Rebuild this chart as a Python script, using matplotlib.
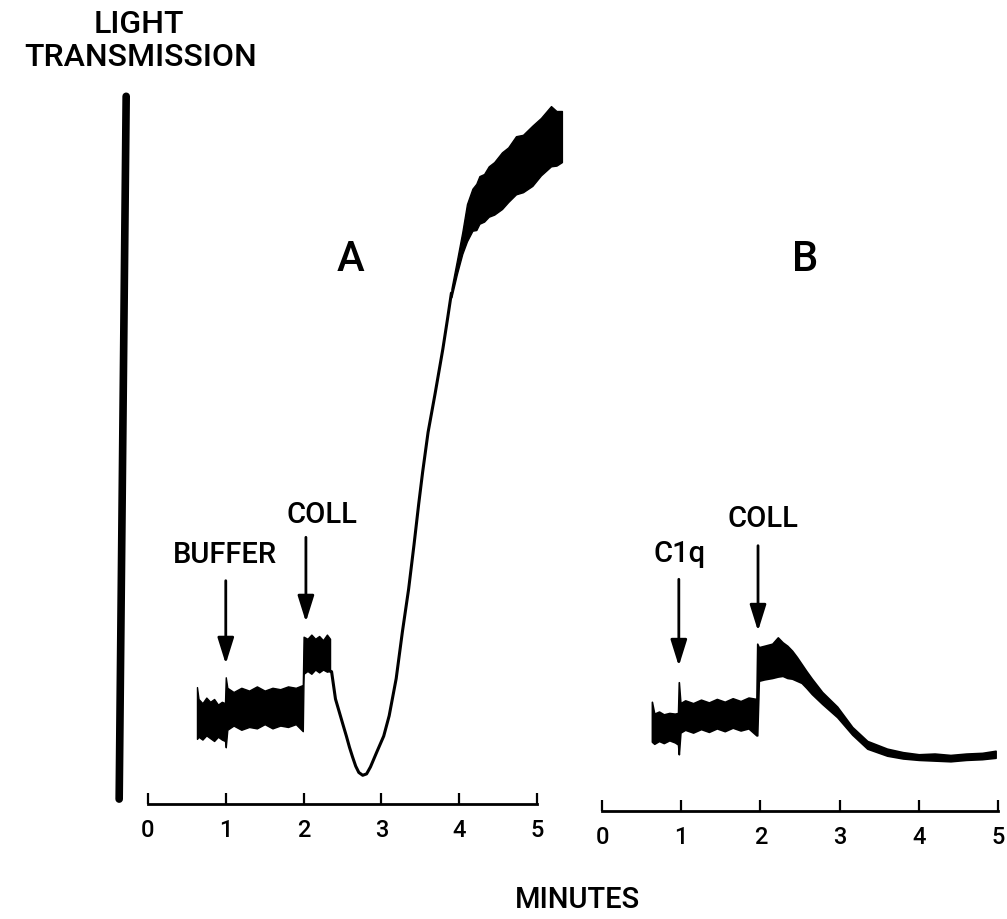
import numpy as np
import matplotlib.pyplot as plt

plt.rcParams['font.family'] = ['Roboto', 'Liberation Sans', 'DejaVu Sans']
plt.rcParams['font.weight'] = 'medium'

# Кривая A: шум до и после добавления буфера и коллагена (t в минутах)
a_base_t = [0.63, 0.65, 0.70, 0.75, 0.80, 0.85, 0.90, 0.95, 0.99,
            1.00, 1.02, 1.10, 1.20, 1.30, 1.40, 1.50, 1.60, 1.70, 1.80, 1.90, 1.99,
            2.00, 2.05, 2.10, 2.15, 2.20, 2.25, 2.30, 2.34]
a_base_hi = [16.7, 15.0, 14.4, 15.2, 14.6, 15.0, 14.2, 14.6, 14.4,
             18.1, 16.6, 16.0, 16.6, 16.2, 16.8, 16.2, 16.6, 16.4, 16.8, 16.6, 17.0,
             23.9, 23.6, 24.2, 23.6, 24.0, 23.4, 24.2, 23.6]
a_base_lo = [9.3, 9.6, 9.2, 9.8, 9.4, 9.0, 9.6, 9.2, 9.0,
             8.1, 10.6, 11.2, 10.6, 11.0, 10.8, 11.4, 10.8, 11.2, 11.0, 11.4, 10.4,
             18.6, 19.0, 18.6, 19.2, 18.8, 19.2, 18.9, 19.0]

# Кривая A: спад и подъём (агрегация)
a_line_t = [2.34, 2.36, 2.41, 2.46, 2.51, 2.55, 2.59, 2.63, 2.67, 2.71, 2.76,
            2.81, 2.86, 2.94, 3.03, 3.10, 3.19, 3.27, 3.35, 3.42, 3.48, 3.53,
            3.60, 3.69, 3.79, 3.85, 3.90]
a_line_y = [19.0, 18.9, 15.0, 13.1, 11.2, 9.7, 8.1, 6.7, 5.4, 4.5, 4.1,
            4.3, 5.3, 7.4, 9.7, 12.6, 17.9, 24.6, 30.7, 37.1, 42.9, 47.4,
            53.1, 58.6, 65.0, 69.3, 73.0]

# Кривая A: верхний участок с шумом
a_top_t = [3.90, 3.97, 4.04, 4.10, 4.17, 4.22, 4.26, 4.32, 4.38, 4.45, 4.55,
           4.63, 4.73, 4.82, 4.94, 5.05, 5.18, 5.25, 5.32]
a_top_hi = [73.6, 77.6, 81.7, 85.7, 87.9, 88.6, 89.7, 90.0, 91.1, 91.7, 93.1,
            93.8, 95.4, 95.6, 96.9, 98.0, 99.7, 99.0, 99.0]
a_top_lo = [72.4, 75.7, 78.6, 80.4, 81.9, 82.0, 82.9, 83.2, 83.9, 84.2, 85.0,
            86.0, 87.1, 87.4, 88.3, 89.8, 91.1, 91.2, 91.7]

# Кривая B: C1q, затем коллаген
b_t = [0.63, 0.66, 0.72, 0.78, 0.85, 0.92, 0.96,
       0.97, 0.99, 1.05, 1.15, 1.25, 1.35, 1.45, 1.55, 1.65, 1.75, 1.85, 1.95,
       1.96, 1.98, 2.05, 2.15, 2.22, 2.28, 2.34, 2.40, 2.46, 2.52, 2.58, 2.65,
       2.78, 2.97, 3.16, 3.35, 3.60, 3.80, 4.00, 4.20, 4.40, 4.60, 4.80, 4.97]
b_hi = [15.6, 13.9, 14.2, 13.8, 14.0, 13.9, 14.0,
        18.4, 15.4, 15.8, 15.4, 15.9, 15.5, 16.0, 15.6, 16.1, 15.7, 16.2, 16.0,
        23.9, 23.4, 23.6, 23.9, 24.8, 24.1, 23.6, 22.9, 22.0, 21.0, 20.0, 18.9,
        17.0, 14.9, 12.0, 10.0, 8.9, 8.4, 8.1, 8.2, 8.0, 8.2, 8.3, 8.6]
b_lo = [9.9, 9.6, 10.0, 9.7, 10.1, 9.8, 9.5,
        8.1, 11.2, 11.6, 11.2, 11.7, 11.3, 11.8, 11.4, 11.9, 11.5, 11.8, 10.8,
        10.8, 18.6, 18.8, 19.0, 19.2, 19.3, 19.0, 18.9, 18.6, 18.3, 17.6, 16.7,
        15.3, 13.4, 10.9, 8.9, 7.9, 7.5, 7.3, 7.2, 7.1, 7.3, 7.4, 7.6]

ticks = [0, 1, 2, 3, 4, 5]

# Стрелки: (время, хвост, острие) и подписи
a_arrows = [(1.0, 31.9, 20.0), (2.03, 38.1, 26.0)]
a_labels = [(0.99, 35.7, 'BUFFER'), (2.24, 41.4, 'COLL')]
b_arrows = [(0.97, 33.1, 20.7), (1.97, 37.9, 25.7)]
b_labels = [(0.98, 36.9, 'C1q'), (2.03, 41.9, 'COLL')]

fig = plt.figure(figsize=(10.07, 9.2), dpi=100)
axA = fig.add_axes([0.1083, 0.1098, 0.4636, 0.8141])
axB = fig.add_axes([0.5585, 0.1022, 0.4404, 0.8141])


def setup(ax, xmax):
    ax.set_facecolor('none')
    ax.set_xlim(-0.5, xmax)
    ax.set_ylim(-2, 105)
    for s in ['top', 'right', 'left']:
        ax.spines[s].set_visible(False)
    ax.spines['bottom'].set_position(('data', 0))
    ax.spines['bottom'].set_bounds(0, 5)
    ax.spines['bottom'].set_linewidth(2.0)
    ax.set_xticks(ticks)
    ax.set_xticklabels([str(t) for t in ticks])
    ax.set_yticks([])
    ax.tick_params(axis='x', direction='in', length=8, width=1.6, pad=10,
                   labelsize=17)


def arrows(ax, arr, labels):
    for t, tail, tip in arr:
        ax.annotate('', xy=(t, tip), xytext=(t, tail),
                    arrowprops=dict(arrowstyle='-|>,head_length=0.8,head_width=0.25',
                                    lw=2.0, color='k', shrinkA=0, shrinkB=0,
                                    mutation_scale=20))
    for t, y, s in labels:
        ax.text(t, y, s, ha='center', va='center', fontsize=21)


setup(axA, 5.5)
setup(axB, 5.1)

# A
axA.fill_between(a_base_t, a_base_lo, a_base_hi, color='k', lw=1.0)
axA.plot(a_line_t, a_line_y, color='k', lw=2.2, solid_capstyle='round',
         solid_joinstyle='round')
axA.fill_between(a_top_t, a_top_lo, a_top_hi, color='k', lw=1.0)
axA.plot([-0.28, -0.37], [101.1, 0.7], color='k', lw=5.5,
         solid_capstyle='round', clip_on=False)
arrows(axA, a_arrows, a_labels)
axA.text(2.60, 77.9, 'A', ha='center', va='center', fontsize=30)

# B
axB.fill_between(b_t, b_lo, b_hi, color='k', lw=1.2)
arrows(axB, b_arrows, b_labels)
axB.text(2.56, 78.9, 'B', ha='center', va='center', fontsize=30)

fig.text(0.138, 0.973, 'LIGHT', ha='center', va='center', fontsize=23)
fig.text(0.140, 0.938, 'TRANSMISSION', ha='center', va='center', fontsize=23)
fig.text(0.573, 0.022, 'MINUTES', ha='center', va='center', fontsize=21)

fig.savefig('out.png', dpi=100)
